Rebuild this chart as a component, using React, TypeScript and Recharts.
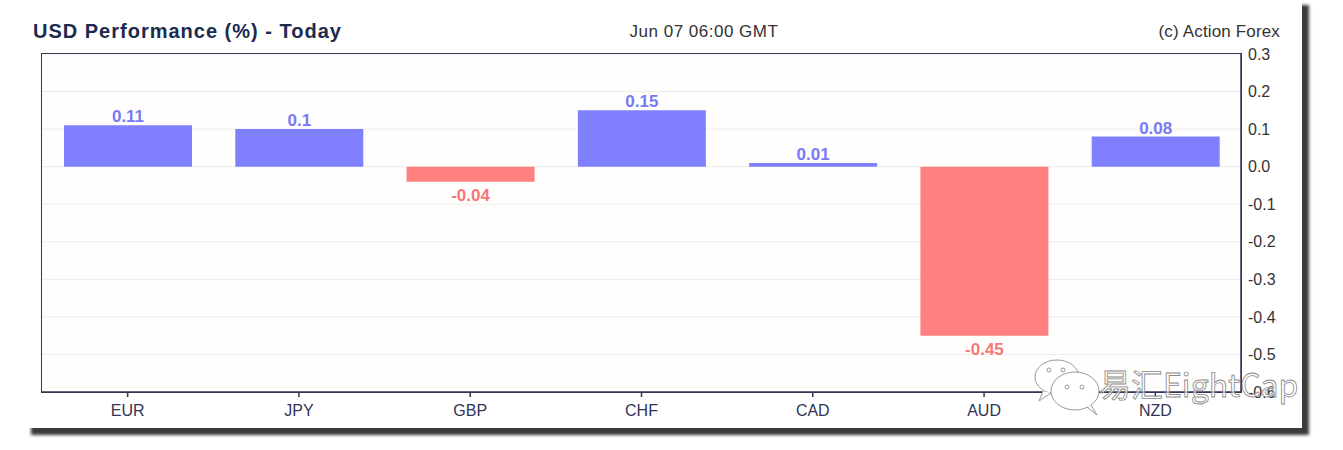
import { BarChart, Bar, XAxis, YAxis, CartesianGrid, Cell, LabelList } from 'recharts';

const currencies = ['EUR', 'JPY', 'GBP', 'CHF', 'CAD', 'AUD', 'NZD'];
const usdChange = [0.11, 0.1, -0.04, 0.15, 0.01, -0.45, 0.08];
const yTicks = [0.3, 0.2, 0.1, 0, -0.1, -0.2, -0.3, -0.4, -0.5, -0.6];

const data = currencies.map((name, i) => ({ name, value: usdChange[i] }));

const UP = '#8080ff';
const DOWN = '#ff8080';
const AXIS = '#35355a';
const FONT = '"Liberation Sans", Arial, sans-serif';

// plot frame (chart margins)
const M = { top: 54, right: 42, bottom: 28, left: 42 };
const Y_AXIS_W = 60;
const X_AXIS_H = 30;

const renderLabel = (props: any) => {
  const { x, y, width, height, value } = props;
  const top = Math.min(y, y + height);
  const bottom = Math.max(y, y + height);
  const neg = value < 0;
  return (
    <text
      x={x + width / 2}
      y={neg ? bottom + 19 : top - 3}
      textAnchor="middle"
      fill={neg ? '#f87878' : '#7878f8'}
      fontSize={17}
      fontWeight="bold"
      fontFamily={FONT}
    >
      {String(value)}
    </text>
  );
};

export default function App() {
  return (
    <div style={{ position: 'fixed', left: 0, top: 0, width: 1343, height: 450, background: '#fff', fontFamily: FONT }}>
      <div
        style={{
          position: 'absolute',
          left: 24,
          top: -2,
          width: 1278,
          height: 430,
          background: '#fff',
          boxShadow: '7px 7px 3px #3a3a3a',
        }}
      />
      <div style={{ position: 'absolute', left: 33, top: 20, fontSize: 20, lineHeight: '22px', fontWeight: 'bold', color: '#1b2a4e', letterSpacing: 1 }}>
        USD Performance (%) - Today
      </div>
      <div style={{ position: 'absolute', left: 0, width: 1408, top: 22, textAlign: 'center', fontSize: 17, lineHeight: '20px', color: '#333', letterSpacing: 0.5 }}>
        Jun 07 06:00 GMT
      </div>
      <div style={{ position: 'absolute', right: 63, top: 22, fontSize: 17, lineHeight: '20px', color: '#333', letterSpacing: 0.15 }}>
        (c) Action Forex
      </div>
      <div style={{ position: 'absolute', left: 0, top: 0 }}>
        <BarChart width={1343} height={450} data={data} margin={M}>
          <CartesianGrid vertical={false} stroke="#ececec" fill="#fffefc" />
          <XAxis
            dataKey="name"
            height={X_AXIS_H}
            axisLine={{ stroke: AXIS, strokeWidth: 1.5 }}
            tickLine={{ stroke: AXIS, strokeWidth: 1.5 }}
            tickSize={5}
            tickMargin={8}
            tick={{ fill: '#333355', fontSize: 16, fontFamily: FONT }}
          />
          <YAxis
            orientation="right"
            width={Y_AXIS_W}
            domain={[-0.6, 0.3]}
            ticks={yTicks}
            interval={0}
            allowDataOverflow
            tickFormatter={(v: number) => v.toFixed(1)}
            axisLine={{ stroke: AXIS, strokeWidth: 1.5 }}
            tickLine={false}
            tickSize={4}
            tickMargin={3}
            tick={{ fill: '#333', fontSize: 16, fontFamily: FONT }}
          />
          <Bar dataKey="value" barSize={128} isAnimationActive={false}>
            {data.map((d) => (
              <Cell key={d.name} fill={d.value < 0 ? DOWN : UP} />
            ))}
            <LabelList dataKey="value" content={renderLabel} />
          </Bar>
        </BarChart>
      </div>
      {/* frame around the plot area */}
      <div
        style={{
          position: 'absolute',
          left: M.left - 0.75,
          top: M.top - 0.75,
          width: 1343 - M.left - M.right - Y_AXIS_W,
          height: 450 - M.top - M.bottom - X_AXIS_H,
          border: `1.5px solid ${AXIS}`,
          pointerEvents: 'none',
        }}
      />
      <svg style={{ position: 'absolute', left: 1025, top: 355 }} width={290} height={70}>
        <g fill="#fff" stroke="#999" strokeWidth={1}>
          <ellipse cx={32} cy={22} rx={22} ry={17} />
          <path d="M18 36 L14 46 L26 38" />
          <ellipse cx={50} cy={36} rx={24} ry={19} />
          <path d="M62 52 L72 60 L66 50" />
          <circle cx={24} cy={15} r={2} />
          <circle cx={38} cy={15} r={2} />
          <circle cx={42} cy={32} r={2} />
          <circle cx={57} cy={32} r={2} />
        </g>
        <text x={74} y={42} fontSize={32} fontFamily='"Noto Sans CJK SC", "Liberation Sans", sans-serif' fill="#fff" fillOpacity={0.6} stroke="#888" strokeWidth={0.8}>
          易汇EightCap
        </text>
      </svg>
    </div>
  );
}
